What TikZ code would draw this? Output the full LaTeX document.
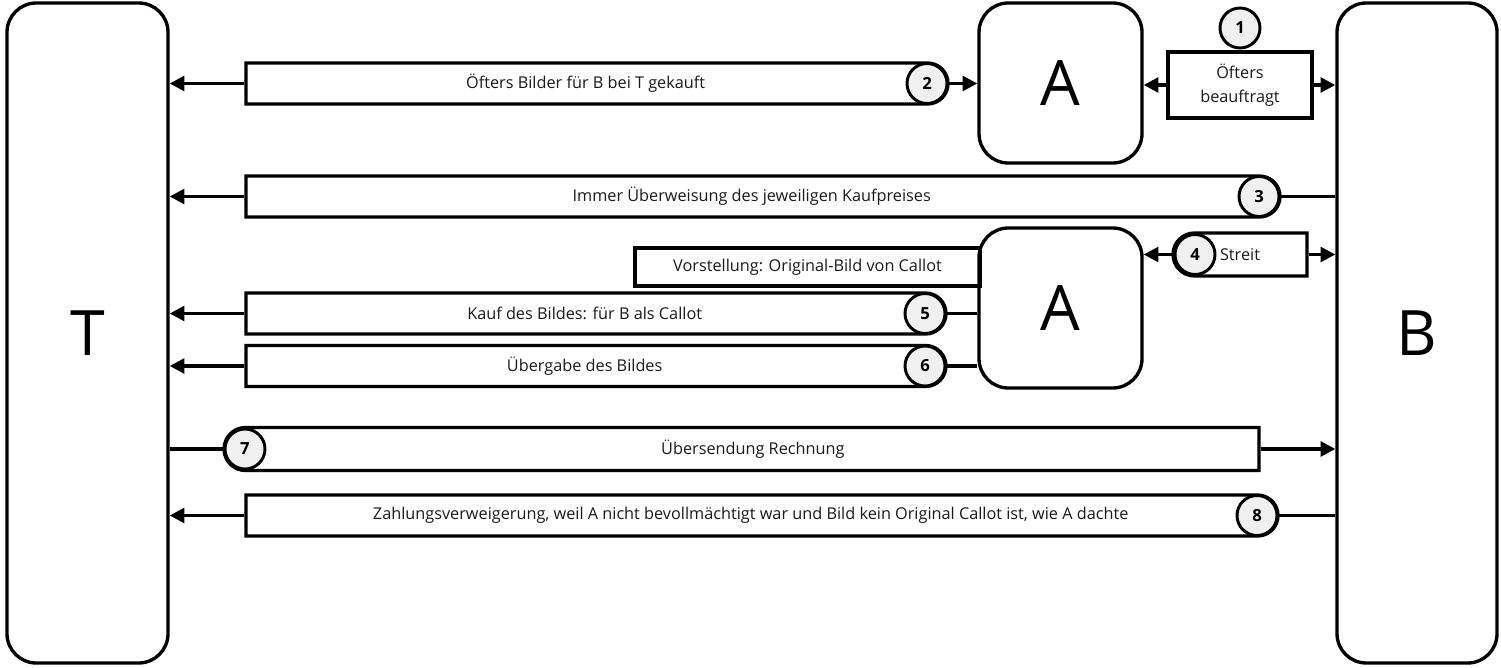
\documentclass[tikz,border=0pt]{standalone}
\usepackage{fontspec}
\setmainfont{Open Sans}
\usetikzlibrary{arrows.meta,calc,positioning,shapes.misc}
\newcommand\pxu{0.75pt}
\definecolor{disc}{HTML}{F0F0F0}
\definecolor{ink}{HTML}{1A1A1A}
\tikzset{party/.style={draw=black,line width=2.5pt,rounded corners=22pt,inner sep=0pt,font=\fontsize{47}{52}\selectfont},
 msgbox/.style={draw=black,line width=2.5pt,minimum height=41*\pxu,inner sep=0pt},
 roundend/.style={msgbox,rounded rectangle},
 numdisc/.style={circle,draw=black,fill=disc,line width=2.2pt,minimum size=40*\pxu,inner sep=0pt,font=\fontsize{12.5}{14}\selectfont\bfseries},
 note/.style={text=ink,font=\fontsize{12.2}{18}\selectfont,align=center},
 msgarrow/.style={line width=2.5pt,-{Triangle[length=11pt,width=11pt]}},
 link/.style={line width=2.5pt}}
\begin{document}
\begin{tikzpicture}[x=\pxu,y=-\pxu]
\useasboundingbox (0,0) rectangle (1501,667);
% Parteien
\node[party,minimum width=161*\pxu,minimum height=660*\pxu] (T) at (87.5,333) {T};
\node[party,minimum width=160*\pxu,minimum height=660*\pxu] (B) at (1417,333) {B};
\node[party,minimum width=163*\pxu,minimum height=160*\pxu] (A1) at (1060.5,83) {A};
\node[party,minimum width=163*\pxu,minimum height=160*\pxu] (A2) at (1060.5,308) {A};
% Kaesten
\node[msgbox,minimum width=144*\pxu,minimum height=66*\pxu] (m1) at (1240,85) {};
\node[roundend,rounded rectangle west arc=none,minimum width=702*\pxu] (m2) at (597,83.5) {};
\node[roundend,rounded rectangle west arc=none,minimum width=1034*\pxu] (m3) at (763,196.5) {};
\node[roundend,rounded rectangle east arc=none,minimum width=134*\pxu,minimum height=43*\pxu] (m4) at (1240,254.5) {};
\node[msgbox,minimum width=345*\pxu,minimum height=38*\pxu] (v) at (807.5,267) {};
\node[roundend,rounded rectangle west arc=none,minimum width=700*\pxu] (m5) at (596,313.5) {};
\node[roundend,rounded rectangle west arc=none,minimum width=700*\pxu] (m6) at (596,366) {};
\node[roundend,rounded rectangle east arc=none,minimum width=1035*\pxu,minimum height=43*\pxu] (m7) at (741.5,449) {};
\node[roundend,rounded rectangle west arc=none,minimum width=1032*\pxu] (m8) at (762,515.5) {};
% Nummern
\node[numdisc] (c1) at (1240,28) {1};
\node[numdisc] (c2) at (927,83.5) {2};
\node[numdisc] (c3) at (1259,196.5) {3};
\node[numdisc] (c4) at (1195,254.5) {4};
\node[numdisc] (c5) at (925,313.5) {5};
\node[numdisc] (c6) at (925,366) {6};
\node[numdisc] (c7) at (245,449) {7};
\node[numdisc] (c8) at (1257,515.5) {8};
% Texte
\node[note] (t1) at (m1) {Öfters\\beauftragt};
\node[note] (t2) at ($(m2.west)!.5!(c2.center)$) {Öfters Bilder für B bei T gekauft};
\node[note] (t3) at ($(m3.west)!.5!(c3.center)$) {Immer Überweisung des jeweiligen Kaufpreises};
\node[note] (t4) at (m4) {Streit};
\node[note] (tv) at (v) {Vorstellung: Original-Bild von Callot};
\node[note] (t5) at ($(m5.west)!.5!(c5.center)$) {Kauf des Bildes: für B als Callot};
\node[note] (t6) at ($(m6.west)!.5!(c6.center)$) {Übergabe des Bildes};
\node[note] (t7) at ($(c7.center)!.5!(m7.east)$) {Übersendung Rechnung};
\node[note] (t8) at ($(m8.west)!.5!(c8.center)$) {Zahlungsverweigerung, weil A nicht bevollmächtigt war und Bild kein Original Callot ist, wie A dachte};
% Verbindungen
\draw[msgarrow] (m1.west) -- (m1.west -| A1.east);
\draw[msgarrow] (m1.east) -- (m1.east -| B.west);
\draw[msgarrow] (m2.west) -- (m2.west -| T.east);
\draw[msgarrow] (c2.east) -- (c2.east -| A1.west);
\draw[msgarrow] (m3.west) -- (m3.west -| T.east);
\draw[link] (c3.east) -- (c3.east -| B.west);
\draw[msgarrow] (c4.west) -- (c4.west -| A2.east);
\draw[msgarrow] (m4.east) -- (m4.east -| B.west);
\draw[msgarrow] (m5.west) -- (m5.west -| T.east);
\draw[link] (c5.east) -- (c5.east -| A2.west);
\draw[msgarrow] (m6.west) -- (m6.west -| T.east);
\draw[link] (c6.east) -- (c6.east -| A2.west);
\draw[link] (T.east |- c7.west) -- (c7.west);
\draw[msgarrow] (m7.east) -- (m7.east -| B.west);
\draw[msgarrow] (m8.west) -- (m8.west -| T.east);
\draw[link] (c8.east) -- (c8.east -| B.west);
\end{tikzpicture}
\end{document}
